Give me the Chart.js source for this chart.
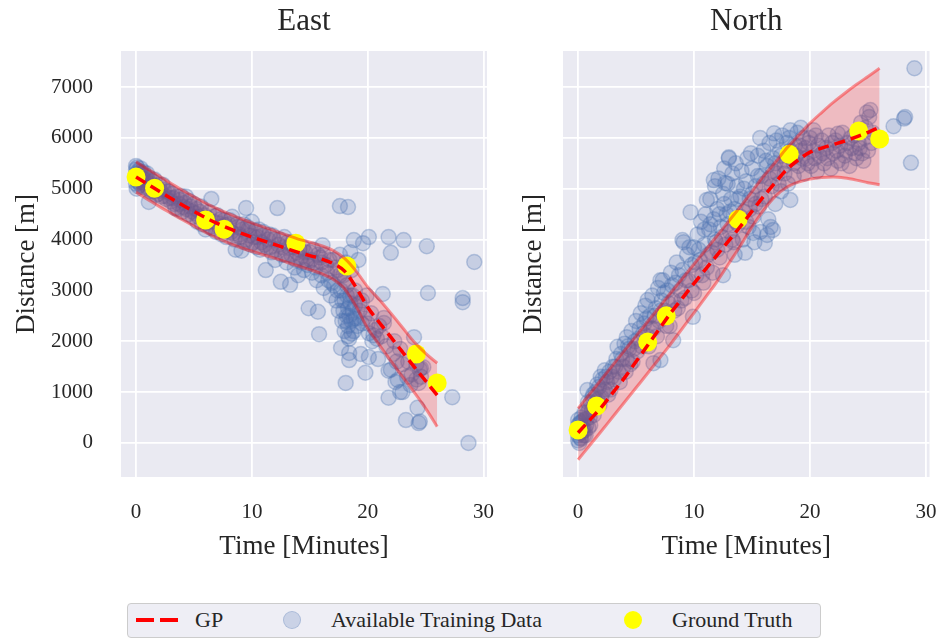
<!DOCTYPE html>
<html>
<head>
<meta charset="utf-8">
<script src="https://cdn.jsdelivr.net/npm/chart.js@4.4.1/dist/chart.umd.min.js"></script>
<style>
  body { margin: 0; background: #fff; }
  #wrap { position: relative; width: 939px; height: 639px; overflow: hidden; font-family: "Liberation Serif", serif; color: #262626; }
  canvas { position: absolute; top: 0; }
  #east { left: 0; }
  #north { left: 507px; }
  #legend { position: absolute; left: 127px; top: 603px; width: 692px; height: 33px; border: 1px solid #cccccc; border-radius: 4px; background: rgba(234,234,242,0.8); }
  .lg { position: absolute; }
  .txt { font-size: 22px; line-height: 22px; top: 609px; }
  .dash { height: 4px; width: 18px; background: #ff0000; top: 618px; }
  .dot { width: 18px; height: 18px; border-radius: 50%; top: 611px; }
</style>
</head>
<body>
<div id="wrap">
  <canvas id="east" width="507" height="575"></canvas>
  <canvas id="north" width="432" height="575"></canvas>
  <div id="legend"></div>
  <div class="lg dash" style="left:136px"></div>
  <div class="lg dash" style="left:160px"></div>
  <div class="lg txt" style="left:195px">GP</div>
  <div class="lg dot" style="left:283px; background: rgba(76,114,176,0.22); box-sizing: border-box; border: 1px solid rgba(76,114,176,0.25);"></div>
  <div class="lg txt" style="left:331px">Available Training Data</div>
  <div class="lg dot" style="left:624px; background:#ffff00"></div>
  <div class="lg txt" style="left:672px">Ground Truth</div>
</div>
<script>
// GP posterior (mean and band) on a one-minute grid
const gpTime = [0, 1, 2, 3, 4, 5, 6, 7, 8, 9, 10, 11, 12, 13, 14, 15, 16, 17, 18, 19, 20, 21, 22, 23, 24, 25, 26];
const eastMean  = [5230, 5090, 4950, 4815, 4680, 4555, 4430, 4320, 4220, 4130, 4050, 3975, 3900, 3825, 3750, 3685, 3620, 3530, 3380, 3060, 2670, 2370, 2080, 1790, 1500, 1220, 940];
const eastUpper = [5530, 5390, 5250, 5110, 4970, 4845, 4720, 4610, 4510, 4415, 4330, 4250, 4170, 4090, 4010, 3950, 3880, 3790, 3630, 3380, 3070, 2820, 2550, 2270, 1990, 1760, 1570];
const eastLower = [4930, 4790, 4650, 4520, 4390, 4265, 4140, 4030, 3930, 3845, 3770, 3700, 3630, 3555, 3480, 3410, 3330, 3220, 3030, 2680, 2250, 1930, 1610, 1300, 1000, 680, 320];
const northMean  = [200, 450, 700, 990, 1280, 1600, 1920, 2240, 2560, 2850, 3140, 3420, 3700, 3980, 4260, 4560, 4850, 5120, 5380, 5570, 5720, 5800, 5870, 5940, 6020, 6110, 6210];
const northUpper = [680, 965, 1250, 1535, 1820, 2105, 2390, 2675, 2960, 3240, 3520, 3800, 4080, 4365, 4650, 4950, 5250, 5520, 5800, 6050, 6290, 6500, 6700, 6880, 7050, 7210, 7370];
const northLower = [-330, -50, 230, 515, 800, 1085, 1370, 1660, 1950, 2255, 2560, 2870, 3180, 3530, 3880, 4250, 4580, 4850, 5030, 5130, 5190, 5220, 5230, 5210, 5170, 5120, 5080];

// ground truth
const truthTime  = [0, 1.6, 6.0, 7.6, 13.8, 18.2, 24.2, 26.0];
const eastTruth  = [5230, 5010, 4385, 4205, 3930, 3480, 1750, 1180];
const northTruth = [255, 727, 1985, 2500, 4400, 5680, 6135, 5980];

// available training data [time, distance]
const eastTrain = [
  [0,5450],[0,5380],[0,5300],[0,5200],[0,5100],[0.05,5000],[0.1,5420],[0.1,5250],[0.15,5150],[0.2,5350],
  [0.2,5050],[0.3,5280],[0.3,5180],[0.4,5400],[0.4,5080],[0.5,5300],[0.6,5200],[0.7,5120],[0.8,5250],[0.9,5050],
  [1.1,4740],[1.0,5180],[1.2,5100],[1.4,5150],[1.5,4950],[1.7,5050],[1.9,4900],[2.0,5080],[2.2,4850],[2.4,4980],
  [2.6,4800],[2.8,4950],[3.0,4750],[3.1,4900],[3.3,4700],[3.5,4850],[3.6,4600],[3.8,4780],[4.0,4550],[4.2,4720],
  [4.3,4850],[4.5,4500],[4.7,4650],[4.9,4450],[5.0,4700],[5.2,4600],[5.3,4350],[5.5,4550],[5.7,4300],[5.9,4480],
  [6.0,4200],[6.2,4420],[6.4,4250],[6.5,4800],[6.7,4350],[6.9,4150],[7.0,4480],[7.2,4250],[7.4,4100],[7.6,4380],
  [7.8,4050],[8.0,4300],[8.2,4150],[8.3,4450],[8.5,4000],[8.6,3800],[8.8,4250],[9.0,4050],[9.1,3780],[9.3,4300],
  [9.5,4620],[9.5,4000],[9.7,4200],[9.9,3900],[10.0,4350],[10.2,4050],[10.4,3850],[10.6,4200],[10.8,3950],[11.0,4150],
  [11.2,3400],[11.3,3850],[11.5,4100],[11.7,3750],[11.9,4000],[12.0,3600],[12.2,4620],[12.3,3900],[12.5,3170],[12.6,3700],
  [12.8,4050],[13.0,3550],[13.2,3850],[13.3,3110],[13.5,3950],[13.7,3450],[13.9,3750],[14.0,3300],[14.2,3650],[14.4,3850],
  [14.5,3400],[14.7,3600],[14.9,2650],[15.0,3750],[15.2,3350],[15.4,3550],[15.6,3200],[15.7,2580],[15.8,2140],[15.9,3650],
  [16.0,3300],[16.1,3890],[16.2,3050],[16.4,3500],[16.6,3200],[16.8,2900],[17.0,3600],[17.1,3100],[17.3,2800],[17.4,3400],
  [17.5,2600],[17.6,4660],[17.6,3700],[17.7,3000],[17.7,1870],[17.8,2400],[17.9,3300],[18.0,2200],[18.0,2800],[18.1,1180],
  [18.1,3550],[18.2,2500],[18.2,3100],[18.3,4640],[18.3,2300],[18.3,2650],[18.4,1770],[18.4,1630],[18.4,2050],[18.5,2900],
  [18.5,3750],[18.6,2400],[18.6,3400],[18.7,2600],[18.8,3990],[18.8,2200],[18.9,3000],[19.0,2450],[19.2,3600],[19.3,2750],
  [19.4,1750],[19.5,2350],[19.6,3930],[19.8,1380],[19.9,2900],[20.1,4050],[20.1,1690],[20.1,2160],[20.3,2550],[20.5,2120],
  [20.7,2220],[20.9,1650],[21.0,2300],[21.3,2930],[21.4,2460],[21.4,2360],[21.8,4050],[21.8,1420],[21.8,890],[22.0,3740],
  [22.0,1440],[22.3,2000],[22.4,1200],[22.6,1240],[22.8,1850],[22.8,1000],[23.0,1000],[23.1,3990],[23.3,450],[23.5,1600],
  [23.7,1140],[24.0,2080],[24.2,1550],[24.3,690],[24.4,390],[24.5,420],[24.5,1450],[24.6,1470],[24.8,1490],[25.1,3870],
  [25.2,2950],[27.3,900],[28.2,2850],[28.2,2770],[28.7,0],[29.2,3560],
  [0.1,5230],[0.25,5120],[0.35,5330],[0.45,5220],[0.55,5120],[0.65,5330],[0.75,5030],[0.85,5160],[0.95,5300],[1.05,5000],
  [1.15,5210],[1.3,4950],[1.45,5060],[1.6,5180],[1.75,4880],[1.85,5000],[2.1,4960],[2.3,5080],[2.5,4860],[2.7,4940],
  [2.9,4820],[3.2,4820],[3.4,4620],[3.7,4700],[3.9,4860],[4.1,4640],[4.4,4600],[4.6,4760],[4.8,4560],[5.1,4520],
  [5.4,4450],[5.6,4650],[5.8,4420],[6.1,4330],[6.3,4540],[6.6,4220],[6.8,4460],[7.1,4320],[7.3,4400],[7.5,4200],
  [7.7,4280],[7.9,4180],[8.1,4380],[8.4,4120],[8.7,4300],[8.9,4100],[9.2,4200],[9.4,3950],[9.6,4250],[9.8,4080],
  [10.1,3950],[10.3,4180],[10.5,4050],[10.7,3800],[10.9,4080],[11.1,3900],[11.4,4000],[11.6,3850],[11.8,4080],[12.1,3800],
  [12.4,4000],[12.7,3850],[12.9,3700],[13.1,3950],[13.4,3700],[13.6,3850],[13.8,3600],[14.1,3800],[14.3,3550],[14.6,3750],
  [14.8,3500],[15.1,3600],[15.3,3800],[15.5,3450],[15.7,3700],[16.0,3550],[16.2,3700],[16.5,3350],[16.7,3600],[16.9,3150],
  [17.2,3450],[17.4,3000],[17.6,3300],[17.8,2800],[17.9,2600],[18.0,3200],[18.1,2400],[18.2,2900],[18.3,2100],[18.4,2500],
  [18.5,2750],[18.6,2150],[18.7,2900],[18.8,2450],[18.9,2700],[19.1,2300],[19.3,2600],[19.5,2800],[19.7,2450],[20.0,2350],
  [20.4,2000],[20.8,2050],[21.2,2100],[21.6,1900],[22.2,1750],[22.5,1600],[23.0,1550],[23.4,1300],[23.8,1350],[24.2,1250],
  [24.6,1300],[24.4,1180]
];
const northTrain = [
  [0,50],[0,150],[0,250],[0,350],[0,450],[0.1,0],[0.1,300],[0.2,100],[0.2,400],[0.3,200],
  [0.3,500],[0.4,300],[0.5,150],[0.5,450],[0.6,250],[0.7,350],[0.8,600],[0.8,1040],[0.9,300],[1.0,500],
  [1.1,800],[1.2,650],[1.3,950],[1.4,700],[1.5,1000],[1.7,850],[1.8,1100],[2.0,900],[2.1,1250],[2.3,1050],
  [2.3,1430],[2.5,1200],[2.7,1400],[2.8,1050],[3.0,1500],[3.1,1250],[3.3,1650],[3.4,1890],[3.5,1400],[3.7,1750],
  [3.9,1500],[4.0,1950],[4.2,2080],[4.2,1650],[4.4,1850],[4.6,2200],[4.7,1600],[4.9,2000],[5.0,2400],[5.1,1800],
  [5.3,2250],[5.4,2550],[5.5,1900],[5.7,2350],[5.8,2700],[6.0,2810],[6.0,2100],[6.2,2500],[6.4,2900],[6.5,1570],
  [6.5,2250],[6.7,2650],[6.9,3050],[7.0,2400],[7.1,1630],[7.1,3200],[7.2,2800],[7.3,3200],[7.5,2600],[7.7,3000],
  [7.9,2300],[8.0,3350],[8.2,2020],[8.2,2800],[8.4,3150],[8.5,3550],[8.6,2650],[8.8,3000],[9.0,3400],[9.0,3990],
  [9.1,3950],[9.2,2850],[9.4,3700],[9.5,3200],[9.7,4540],[9.8,3500],[9.9,2480],[10.0,2950],[10.0,3850],[10.2,3300],
  [10.3,4100],[10.5,3600],[10.6,4350],[10.8,3150],[10.9,3900],[11.0,4500],[11.1,4780],[11.1,3450],[11.3,4200],[11.4,4800],
  [11.5,3750],[11.6,3350],[11.7,4400],[11.7,5170],[11.8,5050],[11.9,3950],[12.0,4600],[12.1,5200],[12.2,3650],[12.3,4250],
  [12.5,4900],[12.5,3300],[12.6,5400],[12.7,3900],[12.7,5110],[12.8,4500],[12.9,5100],[13.0,5600],[13.0,5620],[13.1,4150],
  [13.2,4800],[13.3,5300],[13.4,3950],[13.5,3700],[13.5,4600],[13.6,5500],[13.7,5050],[13.8,4300],[14.0,4850],[14.1,5350],
  [14.2,4000],[14.3,4550],[14.4,3740],[14.5,5150],[14.6,5600],[14.7,4250],[14.8,4800],[14.9,5700],[15.0,5400],[15.1,4130],
  [15.1,4450],[15.2,3950],[15.3,5050],[15.5,5650],[15.6,4650],[15.7,6000],[15.7,4150],[15.8,5250],[16.0,5750],[16.1,3930],
  [16.1,4850],[16.3,4090],[16.3,5450],[16.4,4400],[16.5,5900],[16.6,4250],[16.7,5050],[16.8,4190],[16.8,5600],[16.9,6090],
  [17.0,4700],[17.1,5950],[17.2,5300],[17.4,5750],[17.5,4950],[17.6,6050],[17.8,5450],[18.0,5900],[18.1,5100],[18.2,6000],
  [18.3,6150],[18.3,4780],[18.4,5600],[18.6,5250],[18.7,5850],[18.9,6100],[19.0,5450],[19.2,6200],[19.2,5750],[19.4,6000],
  [19.5,5300],[19.7,5600],[19.9,5900],[20.1,5450],[20.3,6150],[20.3,5750],[20.5,6050],[20.6,5350],[20.8,5650],[21.0,5950],
  [21.2,5500],[21.4,5800],[21.6,6050],[21.8,5400],[22.0,5700],[22.2,5950],[22.4,6080],[22.4,5550],[22.6,5850],[22.8,6100],
  [23.0,5650],[23.2,5900],[23.4,5450],[23.6,5800],[23.8,6050],[24.0,5600],[24.2,5900],[24.4,6300],[24.5,5700],[24.7,6000],
  [24.9,6500],[25.1,6410],[25.2,6550],[25.3,5900],[27.2,6230],[28.1,6380],[28.2,6410],[28.7,5510],[29.0,7370],
  [0.05,200],[0.15,380],[0.25,80],[0.35,420],[0.45,250],[0.55,600],[0.65,150],[0.75,480],[0.85,800],[0.95,650],
  [1.05,350],[1.25,900],[1.35,550],[1.55,800],[1.65,1150],[1.85,750],[1.95,1300],[2.15,1000],[2.4,1300],[2.6,950],
  [2.9,1300],[3.2,1500],[3.6,1200],[3.8,1650],[4.1,1400],[4.3,1900],[4.5,1550],[4.8,1850],[5.2,2050],[5.6,2150],
  [5.9,2450],[6.1,1900],[6.3,2250],[6.6,2500],[6.8,2100],[7.1,2600],[7.4,2950],[7.6,2300],[7.8,2750],[8.1,3100],
  [8.3,2600],[8.7,3300],[8.9,2800],[9.3,3200],[9.6,3850],[9.8,3000],[10.1,3550],[10.4,3800],[10.7,3300],[10.9,4200],
  [11.2,3700],[11.4,4300],[11.8,4000],[12.0,3800],[12.2,4500],[12.4,4050],[12.6,4700],[12.9,4300],[13.1,4550],[13.3,4000],
  [13.6,4350],[13.8,4800],[14.0,4450],[14.3,5000],[14.5,4350],[14.8,4600],[15.0,4900],[15.3,4700],[15.5,5250],[15.8,4800],
  [16.0,5100],[16.2,5550],[16.5,5200],[16.8,5350],[17.0,5500],[17.3,5100],[17.5,5650],[17.8,5300],[18.0,5550],[18.3,5750],
  [18.6,5500],[18.8,5650],[19.1,5850],[19.3,5600],[19.6,5800],[19.8,5500],[20.0,6000],[20.4,5600],[20.7,5850],[21.1,5700],
  [21.5,5600],[21.9,5900],[22.3,5750],[22.7,5500],[23.1,5750],[23.5,6000],[23.9,5700],[24.3,5800],[24.6,5550],[24.8,6200],
  [25.0,5750],[25.4,6100]
];

// axes
const xTicks = [0, 10, 20, 30];
const yTicks = [0, 1000, 2000, 3000, 4000, 5000, 6000, 7000];
const xRange = [-1.3, 30.3];
const yRange = [-670, 7710];

const serif = 'Liberation Serif';
const ink = '#262626';

const toXY = (xs, ys) => xs.map((x, i) => ({ x: x, y: ys[i] }));
const pairs = arr => arr.map(p => ({ x: p[0], y: p[1] }));

const panelBg = {
  id: 'panelBg',
  beforeDraw(chart) {
    const { ctx, chartArea: a } = chart;
    ctx.save();
    ctx.fillStyle = '#eaeaf2';
    ctx.fillRect(a.left, a.top, a.right - a.left, a.bottom - a.top);
    ctx.restore();
  }
};

const panelTitle = {
  id: 'panelTitle',
  afterDraw(chart, args, opts) {
    const { ctx, chartArea: a } = chart;
    ctx.save();
    ctx.font = '31px "' + serif + '"';
    ctx.fillStyle = ink;
    ctx.textAlign = 'center';
    ctx.textBaseline = 'middle';
    ctx.fillText(opts.text, (a.left + a.right) / 2, 22);
    ctx.restore();
  }
};

function makePanel(id, title, mean, upper, lower, truth, train, yAxisWidth, padRight, showYLabels) {
  const red = 'rgba(255,0,0,0.4)';
  return new Chart(document.getElementById(id), {
    type: 'line',
    data: {
      datasets: [
        { label: 'GP', data: toXY(gpTime, mean), borderColor: '#ff0000', borderWidth: 3.5,
          borderDash: [11, 6], pointRadius: 0, fill: false, cubicInterpolationMode: 'monotone', order: 0 },
        { label: 'upper', data: toXY(gpTime, upper), borderColor: red, borderWidth: 3,
          pointRadius: 0, fill: false, cubicInterpolationMode: 'monotone', order: 1 },
        { label: 'lower', data: toXY(gpTime, lower), borderColor: red, borderWidth: 3,
          pointRadius: 0, fill: false, cubicInterpolationMode: 'monotone', order: 2 },
        { label: 'Ground Truth', data: toXY(truthTime, truth), showLine: false,
          pointRadius: 9.5, pointBackgroundColor: '#ffff00', pointBorderWidth: 0, order: 3 },
        { label: 'bandUp', data: toXY(gpTime, upper), borderWidth: 0, pointRadius: 0,
          fill: 5, backgroundColor: 'rgba(255,0,0,0.2)', cubicInterpolationMode: 'monotone', order: 4 },
        { label: 'bandLow', data: toXY(gpTime, lower), borderWidth: 0, pointRadius: 0,
          fill: false, cubicInterpolationMode: 'monotone', order: 5 },
        { label: 'Available Training Data', data: pairs(train), showLine: false, pointRadius: 7.5,
          pointBackgroundColor: 'rgba(76,114,176,0.23)', pointBorderColor: 'rgba(76,114,176,0.32)',
          pointBorderWidth: 1.5, order: 6 }
      ]
    },
    options: {
      responsive: false,
      animation: false,
      devicePixelRatio: 1,
      layout: { padding: { left: 0, right: padRight, top: 51, bottom: 0 } },
      plugins: {
        legend: { display: false },
        tooltip: { enabled: false },
        panelTitle: { text: title }
      },
      scales: {
        x: {
          type: 'linear', min: xRange[0], max: xRange[1],
          afterBuildTicks: s => { s.ticks = xTicks.map(v => ({ value: v })); },
          afterFit: s => { s.height = 98; s.paddingLeft = 0; s.paddingRight = 0; },
          grid: { color: '#ffffff', lineWidth: 1.8, drawTicks: false },
          border: { display: false },
          ticks: { padding: 23, color: ink, font: { family: serif, size: 21 }, callback: v => String(v), maxRotation: 0 },
          title: { display: true, text: 'Time [Minutes]', color: ink,
                   font: { family: serif, size: 27 }, padding: { top: 0, bottom: 12 } }
        },
        y: {
          type: 'linear', min: yRange[0], max: yRange[1],
          afterBuildTicks: s => { s.ticks = yTicks.map(v => ({ value: v })); },
          afterFit: s => { s.width = yAxisWidth; s.paddingTop = 0; s.paddingBottom = 0; },
          grid: { color: '#ffffff', lineWidth: 1.8, drawTicks: false },
          border: { display: false },
          ticks: { display: showYLabels, padding: 28, color: ink, font: { family: serif, size: 21 }, callback: v => String(v) },
          title: { display: true, text: 'Distance [m]', color: ink,
                   font: { family: serif, size: 27 }, padding: { top: 11, bottom: 0 } }
        }
      }
    },
    plugins: [panelBg, panelTitle]
  });
}

makePanel('east', 'East', eastMean, eastUpper, eastLower, eastTruth, eastTrain, 121, 20, true);
makePanel('north', 'North', northMean, northUpper, northLower, northTruth, northTrain, 56, 4, false);
</script>
</body>
</html>
